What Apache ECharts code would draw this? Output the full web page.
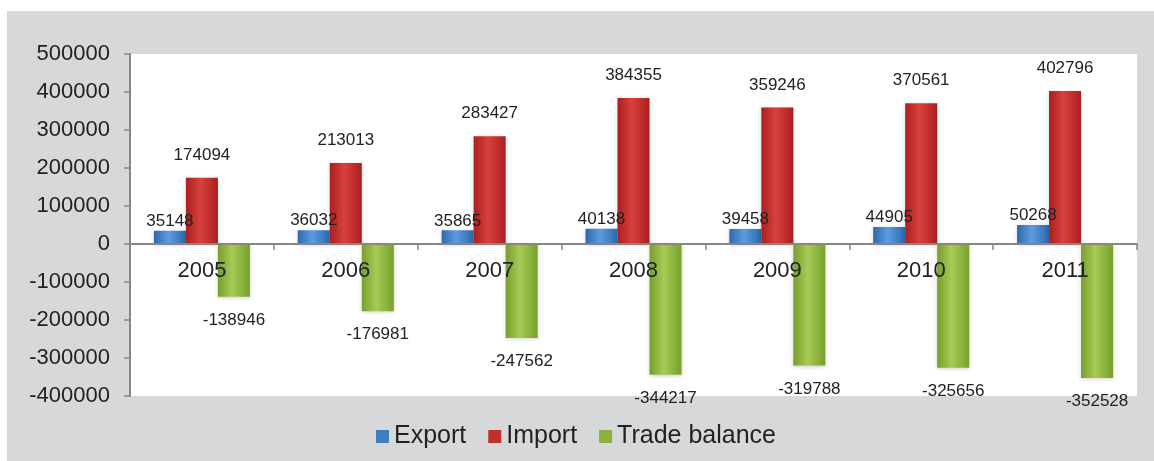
<!DOCTYPE html>
<html>
<head>
<meta charset="utf-8">
<script src="https://cdn.jsdelivr.net/npm/echarts@6/dist/echarts.min.js"></script>
<style>
html, body { margin: 0; padding: 0; background: #fff; }
#wrap { position: absolute; left: 7px; top: 11px; right: 0; bottom: 0; background: #d7d8da; }
#chart { position: absolute; left: 0; top: 0; width: 1154px; height: 461px; }
</style>
</head>
<body>
<div id="wrap"></div>
<div id="chart"></div>
<script>
var years = ['2005', '2006', '2007', '2008', '2009', '2010', '2011'];
var exportVals = [35148, 36032, 35865, 40138, 39458, 44905, 50268];
var importVals = [174094, 213013, 283427, 384355, 359246, 370561, 402796];
var balanceVals = [-138946, -176981, -247562, -344217, -319788, -325656, -352528];

var yMin = -400000, yMax = 500000;
var gridTop = 54, gridBottom = 65, chartH = 461;

var chart = echarts.init(document.getElementById('chart'), null, { renderer: 'canvas' });

function grad(edge, mid) {
    return new echarts.graphic.LinearGradient(0, 0, 1, 0, [
        { offset: 0, color: edge },
        { offset: 0.45, color: mid },
        { offset: 1, color: edge }
    ]);
}

var font = 'Liberation Sans, Arial, sans-serif';

var labelStyle = {
    show: true,
    fontSize: 17,
    color: '#222',
    fontFamily: font
};

// move category axis up to the zero line (labels included)
var plotH = chartH - gridTop - gridBottom;
var zeroOffset = -plotH * (0 - yMin) / (yMax - yMin);

var option = {
    animation: false,
    backgroundColor: 'transparent',
    grid: {
        left: 130,
        right: 17,
        top: gridTop,
        bottom: gridBottom,
        show: true,
        backgroundColor: '#fff',
        borderWidth: 0
    },
    legend: {
        left: 371,
        top: 419,
        itemWidth: 13,
        itemHeight: 13,
        itemGap: 22,
        textStyle: { fontSize: 25, color: '#222', fontFamily: font },
        data: [
            { name: 'Export', icon: 'rect', itemStyle: { color: '#3f7cc0' } },
            { name: 'Import', icon: 'rect', itemStyle: { color: '#c2302d' } },
            { name: 'Trade balance', icon: 'rect', itemStyle: { color: '#8bb13a' } }
        ]
    },
    xAxis: {
        type: 'category',
        data: years,
        position: 'bottom',
        offset: zeroOffset,
        z: 10,
        axisLine: { onZero: false, lineStyle: { color: '#868686', width: 2 } },
        axisTick: { show: true, inside: false, length: 6, lineStyle: { color: '#868686', width: 1.5 } },
        axisLabel: { fontSize: 22, color: '#222', fontFamily: font, margin: 16 }
    },
    yAxis: {
        type: 'value',
        min: yMin,
        max: yMax,
        interval: 100000,
        axisLine: { show: true, lineStyle: { color: '#868686', width: 2 } },
        axisTick: { show: true, length: 6, lineStyle: { color: '#868686', width: 1.5 } },
        splitLine: { show: false },
        axisLabel: {
            fontSize: 22, color: '#222', fontFamily: font, margin: 20,
            formatter: function (v) { return String(v); }
        }
    },
    series: [
        {
            name: 'Export',
            type: 'bar',
            data: exportVals,
            barWidth: 32,
            barGap: '0%',
            itemStyle: {
                color: grad('#2d68ab', '#5d9be0'),
                shadowBlur: 4,
                shadowColor: 'rgba(0,0,0,0.18)',
                shadowOffsetY: 1
            },
            label: Object.assign({ position: 'top', distance: 1 }, labelStyle)
        },
        {
            name: 'Import',
            type: 'bar',
            data: importVals,
            barWidth: 32,
            barGap: '0%',
            itemStyle: {
                color: grad('#a91f1f', '#d9413d'),
                shadowBlur: 4,
                shadowColor: 'rgba(0,0,0,0.18)',
                shadowOffsetY: 1
            },
            label: Object.assign({ position: 'top', distance: 14 }, labelStyle)
        },
        {
            name: 'Trade balance',
            type: 'bar',
            data: balanceVals,
            barWidth: 32,
            barGap: '0%',
            itemStyle: {
                color: grad('#76a02a', '#a6cb56'),
                shadowBlur: 4,
                shadowColor: 'rgba(0,0,0,0.18)',
                shadowOffsetY: 1
            },
            label: Object.assign({ position: 'bottom', distance: 15 }, labelStyle)
        }
    ]
};

chart.setOption(option);
</script>
</body>
</html>
